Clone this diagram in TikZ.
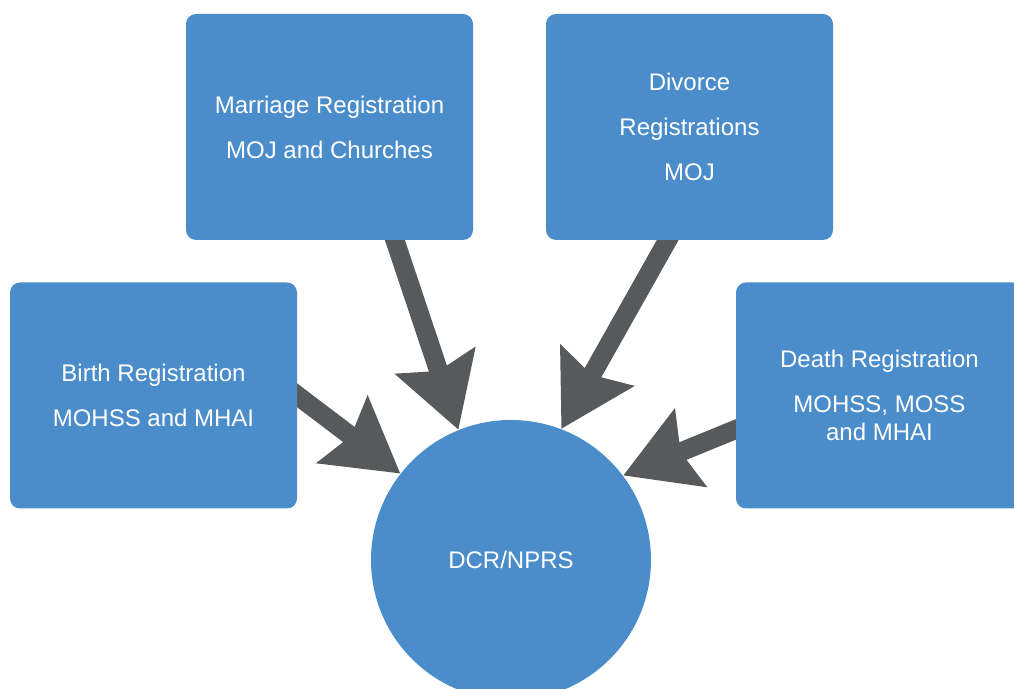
\documentclass[tikz,border=0pt]{standalone}
\usepackage{fontspec}
\setmainfont{Liberation Sans}
\usetikzlibrary{arrows.meta,positioning,backgrounds}

\definecolor{regblue}{HTML}{4A8DCA}
\definecolor{feedgray}{HTML}{58595B}

\begin{document}
\begin{tikzpicture}[
    x=0.5pt, y=-0.5pt,
    office/.style={rectangle, rounded corners=5pt, fill=regblue, text=white, minimum width=143.5pt, minimum height=113pt, align=center, font=\fontsize{12}{14}\selectfont},
    hub/.style={circle, fill=regblue, text=white, minimum size=140pt, inner sep=0pt, font=\fontsize{12}{14}\selectfont},
    feed/.style={draw=feedgray, line width=9.5pt, shorten <=-8pt, -{Stealth[length=36pt, width=41pt, inset=5pt]}}
]
\useasboundingbox (0,0) rectangle (1014,689);

% Registration offices
\node[office] (marriage) at (329.5,127) {Marriage Registration\\[8.5pt]MOJ and Churches};
\node[office] (divorce) at (689.5,127) {Divorce\\[8.5pt]Registrations\\[8.5pt]MOJ};
\node[office] (birth) at (153.5,395.5) {Birth Registration\\[8.5pt]MOHSS and MHAI};
\node[office] (death) at (879.5,395.5) {Death Registration\\[8.5pt]MOHSS, MOSS\\and MHAI};

% Central register
\node[hub] (dcr) at (511,560) {DCR/NPRS};

% Flows into the register
\begin{scope}[on background layer]
\draw[feed] (birth.east) -- (dcr.142);
\draw[feed] (marriage.-60) -- (dcr.112);
\draw[feed] ([xshift=-11pt]divorce.south) -- (dcr.69);
\draw[feed] ([yshift=-17pt]death.west) -- (dcr.37);
\end{scope}

\end{tikzpicture}
\end{document}
